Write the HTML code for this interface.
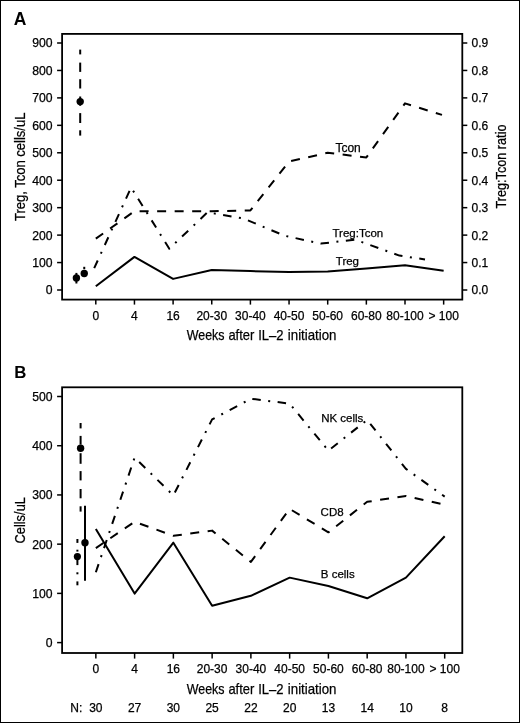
<!DOCTYPE html><html><head><meta charset="utf-8"><style>html,body{margin:0;padding:0;background:#fff;}svg{display:block;will-change:transform;}text{font-family:"Liberation Sans",sans-serif;fill:#000;stroke:#000;stroke-width:0.25px;}</style></head><body>
<svg width="520" height="723" viewBox="0 0 520 723">
<rect x="0" y="0" width="520" height="723" fill="#fff"/>
<rect x="0.5" y="0.5" width="519" height="722" fill="none" stroke="#000" stroke-width="1"/>
<text x="13.8" y="25" font-size="17.5" font-weight="bold" style="stroke-width:0">A</text>
<text x="14.2" y="378.1" font-size="16.8" font-weight="bold" style="stroke-width:0">B</text>
<rect x="62.1" y="33.9" width="400.2" height="265.70000000000005" fill="none" stroke="#000" stroke-width="1.8"/>
<line x1="57.1" y1="290.00" x2="62.1" y2="290.00" stroke="#000" stroke-width="1.5"/>
<text x="52.6" y="294.40" font-size="12.2" text-anchor="end">0</text>
<line x1="57.1" y1="262.56" x2="62.1" y2="262.56" stroke="#000" stroke-width="1.5"/>
<text x="52.6" y="266.96" font-size="12.2" text-anchor="end">100</text>
<line x1="57.1" y1="235.11" x2="62.1" y2="235.11" stroke="#000" stroke-width="1.5"/>
<text x="52.6" y="239.51" font-size="12.2" text-anchor="end">200</text>
<line x1="57.1" y1="207.67" x2="62.1" y2="207.67" stroke="#000" stroke-width="1.5"/>
<text x="52.6" y="212.07" font-size="12.2" text-anchor="end">300</text>
<line x1="57.1" y1="180.22" x2="62.1" y2="180.22" stroke="#000" stroke-width="1.5"/>
<text x="52.6" y="184.62" font-size="12.2" text-anchor="end">400</text>
<line x1="57.1" y1="152.78" x2="62.1" y2="152.78" stroke="#000" stroke-width="1.5"/>
<text x="52.6" y="157.18" font-size="12.2" text-anchor="end">500</text>
<line x1="57.1" y1="125.34" x2="62.1" y2="125.34" stroke="#000" stroke-width="1.5"/>
<text x="52.6" y="129.74" font-size="12.2" text-anchor="end">600</text>
<line x1="57.1" y1="97.89" x2="62.1" y2="97.89" stroke="#000" stroke-width="1.5"/>
<text x="52.6" y="102.29" font-size="12.2" text-anchor="end">700</text>
<line x1="57.1" y1="70.45" x2="62.1" y2="70.45" stroke="#000" stroke-width="1.5"/>
<text x="52.6" y="74.85" font-size="12.2" text-anchor="end">800</text>
<line x1="57.1" y1="43.00" x2="62.1" y2="43.00" stroke="#000" stroke-width="1.5"/>
<text x="52.6" y="47.40" font-size="12.2" text-anchor="end">900</text>
<line x1="462.3" y1="290.00" x2="467.3" y2="290.00" stroke="#000" stroke-width="1.5"/>
<text x="471.6" y="294.40" font-size="12">0.0</text>
<line x1="462.3" y1="262.56" x2="467.3" y2="262.56" stroke="#000" stroke-width="1.5"/>
<text x="471.6" y="266.96" font-size="12">0.1</text>
<line x1="462.3" y1="235.11" x2="467.3" y2="235.11" stroke="#000" stroke-width="1.5"/>
<text x="471.6" y="239.51" font-size="12">0.2</text>
<line x1="462.3" y1="207.67" x2="467.3" y2="207.67" stroke="#000" stroke-width="1.5"/>
<text x="471.6" y="212.07" font-size="12">0.3</text>
<line x1="462.3" y1="180.22" x2="467.3" y2="180.22" stroke="#000" stroke-width="1.5"/>
<text x="471.6" y="184.62" font-size="12">0.4</text>
<line x1="462.3" y1="152.78" x2="467.3" y2="152.78" stroke="#000" stroke-width="1.5"/>
<text x="471.6" y="157.18" font-size="12">0.5</text>
<line x1="462.3" y1="125.34" x2="467.3" y2="125.34" stroke="#000" stroke-width="1.5"/>
<text x="471.6" y="129.74" font-size="12">0.6</text>
<line x1="462.3" y1="97.89" x2="467.3" y2="97.89" stroke="#000" stroke-width="1.5"/>
<text x="471.6" y="102.29" font-size="12">0.7</text>
<line x1="462.3" y1="70.45" x2="467.3" y2="70.45" stroke="#000" stroke-width="1.5"/>
<text x="471.6" y="74.85" font-size="12">0.8</text>
<line x1="462.3" y1="43.00" x2="467.3" y2="43.00" stroke="#000" stroke-width="1.5"/>
<text x="471.6" y="47.40" font-size="12">0.9</text>
<line x1="95.80" y1="299.6" x2="95.80" y2="304.6" stroke="#000" stroke-width="1.5"/>
<text x="95.80" y="319.6" font-size="12" text-anchor="middle">0</text>
<line x1="134.45" y1="299.6" x2="134.45" y2="304.6" stroke="#000" stroke-width="1.5"/>
<text x="134.45" y="319.6" font-size="12" text-anchor="middle">4</text>
<line x1="173.10" y1="299.6" x2="173.10" y2="304.6" stroke="#000" stroke-width="1.5"/>
<text x="173.10" y="319.6" font-size="12" text-anchor="middle">16</text>
<line x1="211.75" y1="299.6" x2="211.75" y2="304.6" stroke="#000" stroke-width="1.5"/>
<text x="211.75" y="319.6" font-size="12" text-anchor="middle">20-30</text>
<line x1="250.40" y1="299.6" x2="250.40" y2="304.6" stroke="#000" stroke-width="1.5"/>
<text x="250.40" y="319.6" font-size="12" text-anchor="middle">30-40</text>
<line x1="289.05" y1="299.6" x2="289.05" y2="304.6" stroke="#000" stroke-width="1.5"/>
<text x="289.05" y="319.6" font-size="12" text-anchor="middle">40-50</text>
<line x1="327.70" y1="299.6" x2="327.70" y2="304.6" stroke="#000" stroke-width="1.5"/>
<text x="327.70" y="319.6" font-size="12" text-anchor="middle">50-60</text>
<line x1="366.35" y1="299.6" x2="366.35" y2="304.6" stroke="#000" stroke-width="1.5"/>
<text x="366.35" y="319.6" font-size="12" text-anchor="middle">60-80</text>
<line x1="405.00" y1="299.6" x2="405.00" y2="304.6" stroke="#000" stroke-width="1.5"/>
<text x="405.00" y="319.6" font-size="12" text-anchor="middle">80-100</text>
<line x1="443.65" y1="299.6" x2="443.65" y2="304.6" stroke="#000" stroke-width="1.5"/>
<text x="443.65" y="319.6" font-size="12" text-anchor="middle">&gt; 100</text>
<text x="186.70" y="339.8" font-size="15" textLength="37.80" lengthAdjust="spacingAndGlyphs">Weeks</text>
<text x="228.40" y="339.8" font-size="15" textLength="25.90" lengthAdjust="spacingAndGlyphs">after</text>
<text x="258.20" y="339.8" font-size="15" textLength="25.40" lengthAdjust="spacingAndGlyphs">IL–2</text>
<text x="287.80" y="339.8" font-size="15" textLength="48.70" lengthAdjust="spacingAndGlyphs">initiation</text>
<text transform="translate(24.6,166.8) rotate(-90)" x="0" y="0" font-size="15.5" text-anchor="middle" textLength="108.5" lengthAdjust="spacingAndGlyphs">Treg, Tcon cells/uL</text>
<text transform="translate(505.7,166.5) rotate(-90)" x="0" y="0" font-size="14.5" text-anchor="middle" textLength="84" lengthAdjust="spacingAndGlyphs">Treg:Tcon ratio</text>
<polyline points="95.80,286.30 134.45,256.90 173.10,278.89 211.75,269.97 250.40,271.06 289.05,272.02 327.70,271.48 366.35,268.46 405.00,265.16 443.65,270.79" fill="none" stroke="#000" stroke-width="2.0" stroke-linejoin="round" />
<polyline points="95.80,238.68 134.45,211.24 173.10,211.24 211.75,211.24 250.40,210.41 289.05,161.56 327.70,152.78 366.35,157.45 405.00,103.38 442.00,114.91" fill="none" stroke="#000" stroke-width="2.0" stroke-linejoin="round" stroke-dasharray="9.0 8.52"/>
<polyline points="94.20,268.20 131.10,187.50 169.30,248.70 207.50,212.30 243.50,218.50 284.70,235.80 321.00,243.60 355.00,239.60 399.40,255.60 425.00,259.40" fill="none" stroke="#000" stroke-width="2.0" stroke-linejoin="round" stroke-dasharray="8.5 7.5 2 7.5"/>
<line x1="80.2" y1="49.6" x2="80.2" y2="54.4" stroke="#000" stroke-width="2.0"/>
<line x1="80.2" y1="62.6" x2="80.2" y2="71.9" stroke="#000" stroke-width="2.0"/>
<line x1="80.2" y1="79.2" x2="80.2" y2="88.5" stroke="#000" stroke-width="2.0"/>
<line x1="80.2" y1="96.5" x2="80.2" y2="105.8" stroke="#000" stroke-width="2.0"/>
<line x1="80.2" y1="113.1" x2="80.2" y2="123" stroke="#000" stroke-width="2.0"/>
<line x1="80.2" y1="130.3" x2="80.2" y2="135.6" stroke="#000" stroke-width="2.0"/>
<circle cx="80.2" cy="101.6" r="3.7"/>
<line x1="76.4" y1="272.9" x2="76.4" y2="283.5" stroke="#000" stroke-width="2.0"/>
<circle cx="76.4" cy="278" r="3.7"/>
<line x1="84.25" y1="266.8" x2="84.25" y2="269.2" stroke="#000" stroke-width="2.0"/>
<circle cx="84.25" cy="273.5" r="3.7"/>
<text x="335.4" y="151.6" font-size="12">Tcon</text>
<text x="332.5" y="236.7" font-size="11.5">Treg:Tcon</text>
<text x="335.8" y="265.1" font-size="11.5">Treg</text>
<rect x="62.1" y="387.3" width="400.2" height="265.7" fill="none" stroke="#000" stroke-width="1.8"/>
<line x1="57.1" y1="642.60" x2="62.1" y2="642.60" stroke="#000" stroke-width="1.5"/>
<text x="52.6" y="647.00" font-size="12.2" text-anchor="end">0</text>
<line x1="57.1" y1="593.38" x2="62.1" y2="593.38" stroke="#000" stroke-width="1.5"/>
<text x="52.6" y="597.78" font-size="12.2" text-anchor="end">100</text>
<line x1="57.1" y1="544.16" x2="62.1" y2="544.16" stroke="#000" stroke-width="1.5"/>
<text x="52.6" y="548.56" font-size="12.2" text-anchor="end">200</text>
<line x1="57.1" y1="494.94" x2="62.1" y2="494.94" stroke="#000" stroke-width="1.5"/>
<text x="52.6" y="499.34" font-size="12.2" text-anchor="end">300</text>
<line x1="57.1" y1="445.72" x2="62.1" y2="445.72" stroke="#000" stroke-width="1.5"/>
<text x="52.6" y="450.12" font-size="12.2" text-anchor="end">400</text>
<line x1="57.1" y1="396.50" x2="62.1" y2="396.50" stroke="#000" stroke-width="1.5"/>
<text x="52.6" y="400.90" font-size="12.2" text-anchor="end">500</text>
<line x1="95.85" y1="653.0" x2="95.85" y2="658.6" stroke="#000" stroke-width="1.5"/>
<text x="95.85" y="673.3" font-size="12" text-anchor="middle">0</text>
<text x="95.85" y="712" font-size="12" text-anchor="middle">30</text>
<line x1="134.61" y1="653.0" x2="134.61" y2="658.6" stroke="#000" stroke-width="1.5"/>
<text x="134.61" y="673.3" font-size="12" text-anchor="middle">4</text>
<text x="134.61" y="712" font-size="12" text-anchor="middle">27</text>
<line x1="173.37" y1="653.0" x2="173.37" y2="658.6" stroke="#000" stroke-width="1.5"/>
<text x="173.37" y="673.3" font-size="12" text-anchor="middle">16</text>
<text x="173.37" y="712" font-size="12" text-anchor="middle">30</text>
<line x1="212.13" y1="653.0" x2="212.13" y2="658.6" stroke="#000" stroke-width="1.5"/>
<text x="212.13" y="673.3" font-size="12" text-anchor="middle">20-30</text>
<text x="212.13" y="712" font-size="12" text-anchor="middle">25</text>
<line x1="250.89" y1="653.0" x2="250.89" y2="658.6" stroke="#000" stroke-width="1.5"/>
<text x="250.89" y="673.3" font-size="12" text-anchor="middle">30-40</text>
<text x="250.89" y="712" font-size="12" text-anchor="middle">22</text>
<line x1="289.65" y1="653.0" x2="289.65" y2="658.6" stroke="#000" stroke-width="1.5"/>
<text x="289.65" y="673.3" font-size="12" text-anchor="middle">40-50</text>
<text x="289.65" y="712" font-size="12" text-anchor="middle">20</text>
<line x1="328.41" y1="653.0" x2="328.41" y2="658.6" stroke="#000" stroke-width="1.5"/>
<text x="328.41" y="673.3" font-size="12" text-anchor="middle">50-60</text>
<text x="328.41" y="712" font-size="12" text-anchor="middle">13</text>
<line x1="367.17" y1="653.0" x2="367.17" y2="658.6" stroke="#000" stroke-width="1.5"/>
<text x="367.17" y="673.3" font-size="12" text-anchor="middle">60-80</text>
<text x="367.17" y="712" font-size="12" text-anchor="middle">14</text>
<line x1="405.93" y1="653.0" x2="405.93" y2="658.6" stroke="#000" stroke-width="1.5"/>
<text x="405.93" y="673.3" font-size="12" text-anchor="middle">80-100</text>
<text x="405.93" y="712" font-size="12" text-anchor="middle">10</text>
<line x1="444.69" y1="653.0" x2="444.69" y2="658.6" stroke="#000" stroke-width="1.5"/>
<text x="444.69" y="673.3" font-size="12" text-anchor="middle">&gt; 100</text>
<text x="444.69" y="712" font-size="12" text-anchor="middle">8</text>
<text x="70.3" y="712" font-size="12">N:</text>
<text x="186.70" y="693.8" font-size="15" textLength="37.80" lengthAdjust="spacingAndGlyphs">Weeks</text>
<text x="228.40" y="693.8" font-size="15" textLength="25.90" lengthAdjust="spacingAndGlyphs">after</text>
<text x="258.20" y="693.8" font-size="15" textLength="25.40" lengthAdjust="spacingAndGlyphs">IL–2</text>
<text x="287.80" y="693.8" font-size="15" textLength="48.70" lengthAdjust="spacingAndGlyphs">initiation</text>
<text transform="translate(24.5,520.3) rotate(-90)" x="0" y="0" font-size="15.5" text-anchor="middle" textLength="46.5" lengthAdjust="spacingAndGlyphs">Cells/uL</text>
<polyline points="95.85,528.90 134.61,593.58 173.37,542.68 212.13,605.69 250.89,595.84 289.65,577.63 328.41,586.00 367.17,598.30 405.93,577.63 444.69,536.28" fill="none" stroke="#000" stroke-width="2.0" stroke-linejoin="round" />
<polyline points="95.85,548.10 134.61,521.76 173.37,535.79 212.13,530.62 250.89,561.88 289.65,508.87 328.41,532.35 367.17,501.83 405.93,495.92 444.69,504.78" fill="none" stroke="#000" stroke-width="2.0" stroke-linejoin="round" stroke-dasharray="9.0 8.52"/>
<polyline points="95.85,572.22 134.61,457.53 173.37,495.43 212.13,419.39 250.89,398.71 289.65,403.64 328.41,450.64 367.17,419.88 405.93,468.85 444.69,496.66" fill="none" stroke="#000" stroke-width="2.0" stroke-linejoin="round" stroke-dasharray="8.5 7.5 2 7.5"/>
<line x1="80.6" y1="423" x2="80.6" y2="428.4" stroke="#000" stroke-width="2.0"/>
<line x1="80.6" y1="435.9" x2="80.6" y2="444.6" stroke="#000" stroke-width="2.0"/>
<line x1="80.6" y1="453.2" x2="80.6" y2="463.8" stroke="#000" stroke-width="2.0"/>
<line x1="80.6" y1="471.1" x2="80.6" y2="480.4" stroke="#000" stroke-width="2.0"/>
<line x1="80.6" y1="489" x2="80.6" y2="498.3" stroke="#000" stroke-width="2.0"/>
<line x1="80.6" y1="506.3" x2="80.6" y2="511.6" stroke="#000" stroke-width="2.0"/>
<circle cx="80.6" cy="448.3" r="3.7"/>
<line x1="85.0" y1="505.7" x2="85.0" y2="580.8" stroke="#000" stroke-width="2.0"/>
<circle cx="85.0" cy="542.8" r="3.7"/>
<line x1="77.4" y1="539" x2="77.4" y2="542.9" stroke="#000" stroke-width="2.0"/>
<line x1="77.4" y1="549.7" x2="77.4" y2="551.6" stroke="#000" stroke-width="2.0"/>
<line x1="77.4" y1="559" x2="77.4" y2="565.1" stroke="#000" stroke-width="2.0"/>
<line x1="77.4" y1="572.3" x2="77.4" y2="574.3" stroke="#000" stroke-width="2.0"/>
<line x1="77.4" y1="581.4" x2="77.4" y2="585.3" stroke="#000" stroke-width="2.0"/>
<circle cx="77.4" cy="556.6" r="3.6"/>
<text x="321.2" y="422" font-size="11.5">NK cells</text>
<text x="320.6" y="515.8" font-size="11.5">CD8</text>
<text x="320.8" y="577.8" font-size="11.5">B cells</text>
</svg></body></html>
